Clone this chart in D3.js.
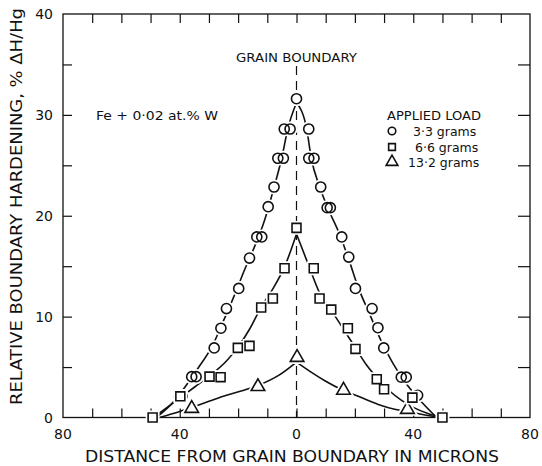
<!DOCTYPE html>
<html>
<head>
<meta charset="utf-8">
<script src="https://cdn.jsdelivr.net/npm/d3@7"></script>
<style>
  html, body { margin: 0; padding: 0; background: #fff; }
  svg { display: block; }
  text { font-family: "DejaVu Sans", "Liberation Sans", sans-serif; fill: #111; }
</style>
</head>
<body>
<svg id="chart" width="542" height="466"></svg>
<script>
// ---------- data ----------
const xTickLabels = ["80", "40", "0", "40", "80"];
const xTickValues = [-80, -40, 0, 40, 80];
const yTickValues = [0, 10, 20, 30, 40];

// 3.3 g (circles)
const circleX = [0, -4.2, -2.2, 4.2, -6.4, -4.5, 4.2, 6.0, -7.7, 8.3, -9.7, 10.5, 11.6,
  -13.6, -11.9, 15.5, -16.1, 17.9, -19.8, 20.2, -24.0, 25.9, -25.9, 27.9, -28.2, 29.9,
  -35.9, -34.4, 35.9, 37.6, -40.1, -39.2, 41.5];
const circleY = [31.6, 28.6, 28.6, 28.6, 25.7, 25.7, 25.7, 25.7, 22.85, 22.85, 20.9, 20.8, 20.8,
  17.9, 17.9, 17.9, 15.8, 15.9, 12.8, 12.8, 10.8, 10.8, 8.85, 8.9, 6.9, 6.9,
  4.05, 4.05, 4.0, 4.0, 2.06, 2.1, 2.2];

// 6.6 g (squares)
const squareX = [0, -4.1, 5.9, -8.1, 7.9, -12.1, 11.9, -16.1, 17.6, -20.1, 20.2, -26.0, 27.5,
  -29.8, 30.0, -39.8, 39.7, -49.3, 50.0];
const squareY = [18.8, 14.8, 14.8, 11.8, 11.8, 10.9, 10.7, 7.1, 8.85, 6.9, 6.8, 4.0, 3.8,
  4.05, 2.8, 2.1, 1.97, 0, 0];

// 13.2 g (triangles)
const triangleX = [0.2, -13.2, 16.1, -35.9, 38.0];
const triangleY = [5.95, 3.06, 2.7, 0.9, 0.8];

// hand-drawn curves through the points
const circleFitLeftX  = [-48, -42, -37, -33, -29, -25, -21, -18, -15, -11, -8, -5, -3, 0];
const circleFitLeftY  = [0, 1.6, 3.5, 5.2, 7.0, 9.6, 12.3, 14.5, 16.5, 19.5, 22.5, 25.8, 28.6, 31.2];
const circleFitRightX = [0, 3.5, 5, 8, 11, 15, 18, 21, 25, 29, 33, 37, 42, 48];
const circleFitRightY = [31.2, 28.6, 25.8, 22.8, 20.6, 18, 15.6, 13, 10.3, 7.6, 5.4, 3.6, 1.8, 0];

const squareFitLeftX  = [-49, -42, -35, -29, -24, -20, -16, -12, -8, -4, 0];
const squareFitLeftY  = [0, 1.5, 3.0, 4.3, 5.6, 7.0, 8.8, 11, 12.8, 15, 18.2];
const squareFitRightX = [0, 4, 8, 12, 16, 20, 24, 28, 32, 36, 40, 45, 50];
const squareFitRightY = [18.2, 15.2, 12.3, 10.6, 8.8, 7.0, 5.2, 3.8, 2.6, 1.7, 1.0, 0.4, 0];

const triFitLeftX  = [-47, -40, -36, -30, -24, -18, -13, -6, 0];
const triFitLeftY  = [0, 0.6, 1.0, 1.6, 2.2, 2.7, 3.2, 4.2, 5.5];
const triFitRightX = [0, 5, 10, 16, 22, 28, 34, 38, 44, 49];
const triFitRightY = [5.5, 4.5, 3.6, 2.7, 2.0, 1.3, 0.8, 0.6, 0.25, 0];

const legendLabels = ["3·3 grams", "6·6 grams", "13·2 grams"];

// ---------- layout ----------
const svg = d3.select("#chart");
const L = 63, R = 530, T = 14, B = 417.5;
const x = d3.scaleLinear().domain([-80, 80]).range([L, R]);
const y = d3.scaleLinear().domain([0, 40]).range([B, T]);
const ink = "#111";

// frame
svg.append("rect").attr("x", L).attr("y", T).attr("width", R - L).attr("height", B - T)
  .attr("fill", "none").attr("stroke", ink).attr("stroke-width", 1.3);

// axes with inward ticks
const xMinor = d3.range(-70, 80, 10);
const yMinor = d3.range(5, 40, 5);
svg.append("g").attr("transform", `translate(0,${B})`)
  .call(d3.axisTop(x).tickValues(xMinor).tickSize(9).tickFormat(""))
  .call(g => g.select(".domain").remove())
  .selectAll("line").attr("stroke", ink).attr("stroke-width", 1.2);
svg.append("g").attr("transform", `translate(0,${T})`)
  .call(d3.axisBottom(x).tickValues(xMinor).tickSize(9).tickFormat(""))
  .call(g => g.select(".domain").remove())
  .selectAll("line").attr("stroke", ink).attr("stroke-width", 1.2);
svg.append("g").attr("transform", `translate(${L},0)`)
  .call(d3.axisRight(y).tickValues(yMinor).tickSize(9).tickFormat(""))
  .call(g => g.select(".domain").remove())
  .selectAll("line").attr("stroke", ink).attr("stroke-width", 1.2);
svg.append("g").attr("transform", `translate(${R},0)`)
  .call(d3.axisLeft(y).tickValues(yMinor).tickSize(12).tickFormat(""))
  .call(g => g.select(".domain").remove())
  .selectAll("line").attr("stroke", ink).attr("stroke-width", 1.2);

// tick labels
svg.append("g").selectAll("text").data(xTickValues).join("text")
  .attr("x", d => x(d)).attr("y", 439)
  .attr("text-anchor", "middle").attr("font-size", 14)
  .text((d, i) => xTickLabels[i]);
svg.append("g").selectAll("text").data(yTickValues).join("text")
  .attr("x", 53).attr("y", d => y(d) + 5)
  .attr("text-anchor", "end").attr("font-size", 14)
  .text(d => d);

// axis titles
svg.append("text").attr("x", 85).attr("y", 462)
  .attr("font-size", 15.5).attr("textLength", 414).attr("lengthAdjust", "spacingAndGlyphs")
  .text("DISTANCE FROM GRAIN BOUNDARY IN MICRONS");
svg.append("text").attr("transform", "translate(22,405) rotate(-90)")
  .attr("font-size", 15.5).attr("textLength", 397).attr("lengthAdjust", "spacingAndGlyphs")
  .text("RELATIVE BOUNDARY HARDENING, % ΔH/Hg");

// grain boundary dashed line + label
svg.append("line").attr("x1", x(0)).attr("x2", x(0)).attr("y1", 66).attr("y2", B)
  .attr("stroke", ink).attr("stroke-width", 1.2).attr("stroke-dasharray", "9,6");
svg.append("text").attr("x", x(0)).attr("y", 62).attr("text-anchor", "middle")
  .attr("font-size", 12.5).attr("textLength", 121).attr("lengthAdjust", "spacingAndGlyphs")
  .text("GRAIN BOUNDARY");

// composition label
svg.append("text").attr("x", 96).attr("y", 120)
  .attr("font-size", 12.5).attr("textLength", 122).attr("lengthAdjust", "spacingAndGlyphs")
  .text("Fe + 0·02 at.% W");

// curves
const line = d3.line().x(d => x(d[0])).y(d => y(d[1])).curve(d3.curveMonotoneX);
const zip = (a, b) => a.map((v, i) => [v, b[i]]);
const fits = [
  zip(circleFitLeftX, circleFitLeftY), zip(circleFitRightX, circleFitRightY),
  zip(squareFitLeftX, squareFitLeftY), zip(squareFitRightX, squareFitRightY),
  zip(triFitLeftX, triFitLeftY), zip(triFitRightX, triFitRightY)
];
svg.append("g").selectAll("path").data(fits).join("path")
  .attr("d", line).attr("fill", "none").attr("stroke", ink).attr("stroke-width", 1.6);

// markers
const symCircle = d3.symbol(d3.symbolCircle, 80);
const symSquare = d3.symbol(d3.symbolSquare, 80);
const symTri = d3.symbol(d3.symbolTriangle, 80);
function drawMarkers(xs, ys, sym, dy) {
  const pts = zip(xs, ys);
  const g = svg.append("g");
  g.selectAll("path.halo").data(pts).join("path").attr("class", "halo")
    .attr("transform", d => `translate(${x(d[0])},${y(d[1]) + dy})`)
    .attr("d", sym).attr("fill", "#fff").attr("stroke", "#fff").attr("stroke-width", 5);
  g.selectAll("path.mk").data(pts).join("path").attr("class", "mk")
    .attr("transform", d => `translate(${x(d[0])},${y(d[1]) + dy})`)
    .attr("d", sym).attr("fill", "none").attr("stroke", ink).attr("stroke-width", 1.6);
}
drawMarkers(triangleX, triangleY, symTri, 0);
drawMarkers(circleX, circleY, symCircle, 0);
drawMarkers(squareX, squareY, symSquare, 0);

// legend
svg.append("text").attr("x", 387).attr("y", 120).attr("font-size", 12.5)
  .attr("textLength", 94).attr("lengthAdjust", "spacingAndGlyphs").text("APPLIED LOAD");
const legSyms = [d3.symbol(d3.symbolCircle, 45), d3.symbol(d3.symbolSquare, 45), d3.symbol(d3.symbolTriangle, 60)];
const legY = [131, 147, 162];
const legTextX = [413, 415, 408];
legendLabels.forEach((lab, i) => {
  svg.append("path").attr("transform", `translate(392,${legY[i]})`).attr("d", legSyms[i])
    .attr("fill", "none").attr("stroke", ink).attr("stroke-width", 1.6);
  svg.append("text").attr("x", legTextX[i]).attr("y", legY[i] + 5).attr("font-size", 12.5)
    .text(lab);
});
</script>
</body>
</html>
